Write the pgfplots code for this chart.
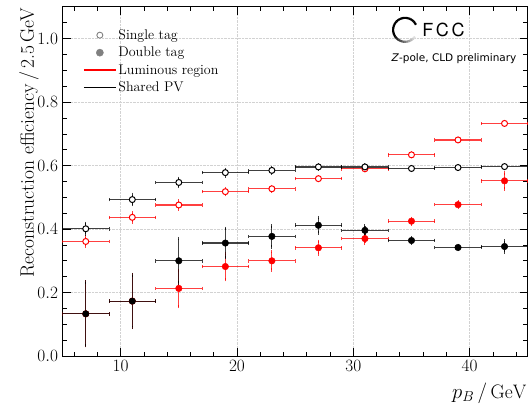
\documentclass[border=0pt]{standalone}
\usepackage{pgfplots}
\pgfplotsset{compat=1.18}
\usepackage{fontspec}
\newfontfamily\logofont{TeX Gyre Heros}
\newfontfamily\djv{DejaVu Sans}
\pgfplotstableread{
x y ex ey
7 0.133 2 0.100
11 0.173 2 0.083
15 0.213 2 0.057
19 0.282 2 0.041
23 0.300 2 0.029
27 0.341 2 0.020
31 0.370 2 0.015
35 0.425 2 0.009
39 0.477 2 0.008
43 0.552 2 0.025
}\doublelum
\pgfplotstableread{
x y ex ey
7 0.361 2 0.015
11 0.437 2 0.014
15 0.476 2 0.012
19 0.518 2 0.009
23 0.527 2 0.007
27 0.559 2 0.006
31 0.590 2 0.005
35 0.634 2 0.005
39 0.681 2 0.004
43 0.733 2 0.004
}\singlelum
\pgfplotstableread{
x y ex ey
7 0.133 2 0.100
11 0.173 2 0.083
15 0.300 2 0.070
19 0.356 2 0.046
23 0.377 2 0.033
27 0.412 2 0.024
31 0.396 2 0.014
35 0.364 2 0.008
39 0.342 2 0.006
43 0.345 2 0.018
}\doublepv
\pgfplotstableread{
x y ex ey
7 0.401 2 0.017
11 0.493 2 0.016
15 0.547 2 0.013
19 0.578 2 0.010
23 0.585 2 0.008
27 0.596 2 0.006
31 0.596 2 0.006
35 0.591 2 0.005
39 0.594 2 0.004
43 0.597 2 0.004
}\singlepv
\pgfplotsset{
  xerr/.style={only marks, mark=none, forget plot,
    error bars/.cd, x dir=both, x explicit, error mark=|,
    error bar style={#1, opacity=0.75, line width=1.2pt},
    error mark options={#1, opacity=0.75, line width=1pt, mark size=1.8pt}},
  yerr/.style={only marks, mark=none, forget plot,
    error bars/.cd, y dir=both, y explicit, error mark=-,
    error bar style={#1, opacity=0.75, line width=1.2pt},
    error mark options={#1, opacity=0.75, line width=1pt, mark size=1.8pt}},
}
\begin{document}
\begin{tikzpicture}
\begin{axis}[
  scale only axis,
  width=465.3pt, height=349pt,
  xmin=5, xmax=45, ymin=0, ymax=1.1,
  xtick={10,20,30,40},
  minor xtick={6,8,12,14,16,18,22,24,26,28,32,34,36,38,42,44},
  ytick={0,0.2,0.4,0.6,0.8,1.0},
  minor ytick={0.05,0.1,0.15,0.25,0.3,0.35,0.45,0.5,0.55,0.65,0.7,0.75,0.85,0.9,0.95,1.05},
  yticklabel style={xshift=-1pt, /pgf/number format/.cd, fixed, fixed zerofill, precision=1},
  tick align=inside,
  axis line style={line width=1pt},
  major tick style={line width=0.9pt, black},
  minor tick style={line width=0.8pt, black},
  major tick length=8pt, minor tick length=4.5pt,
  xtick pos=both, ytick pos=both,
  grid=major,
  major grid style={densely dotted, gray!35, line width=0.5pt},
  tick label style={font=\fontsize{18}{20}\selectfont},
  xticklabel style={yshift=-1pt},
  xlabel={$p_B\,/\,\mathrm{GeV}$},
  ylabel={Reconstruction efficiency\,/\,2.5\,GeV},
  label style={font=\fontsize{19.5}{21}\selectfont},
  xlabel style={at={(rel axis cs:1,0)}, anchor=north east, yshift=-23pt, xshift=2pt},
  ylabel style={at={(axis description cs:-0.0613,1.006)}, anchor=base east},
  legend cell align=left,
  legend style={at={(axis cs:6.77,1.036)}, anchor=north west, draw=none, fill=none,
    font=\fontsize{14}{16}\selectfont, row sep=2.2pt, inner sep=0pt},
]
% legend entries
\addlegendimage{legend image code/.code={\draw[gray, line width=0.9pt, fill=white] (16pt,0pt) circle (3pt);}}
\addlegendentry{Single tag}
\addlegendimage{legend image code/.code={\fill[gray] (16pt,0pt) circle (3.6pt);}}
\addlegendentry{Double tag}
\addlegendimage{legend image code/.code={\draw[red, line width=1.1pt] (0pt,0pt) -- (32pt,0pt);}}
\addlegendentry{Luminous region}
\addlegendimage{legend image code/.code={\draw[black, line width=1.1pt] (0pt,0pt) -- (32pt,0pt);}}
\addlegendentry{Shared PV}

% Double tag, luminous region (red filled)
\addplot[xerr=red] table[x=x, y=y, x error=ex] {\doublelum};
\addplot[yerr=red] table[x=x, y=y, y error=ey] {\doublelum};
\addplot[only marks, forget plot, mark=*, mark size=3.3pt, mark options={fill=red, draw=red}]
  table[x=x, y=y] {\doublelum};
% Single tag, luminous region (red open)
\addplot[xerr=red] table[x=x, y=y, x error=ex] {\singlelum};
\addplot[yerr=red] table[x=x, y=y, y error=ey] {\singlelum};
\addplot[only marks, forget plot, mark=*, mark size=3pt, mark options={fill=white, draw=red, line width=1pt}]
  table[x=x, y=y] {\singlelum};
% Double tag, shared PV (black filled)
\addplot[xerr=black] table[x=x, y=y, x error=ex] {\doublepv};
\addplot[yerr=black] table[x=x, y=y, y error=ey] {\doublepv};
\addplot[only marks, forget plot, mark=*, mark size=3.3pt, mark options={fill=black, draw=black}]
  table[x=x, y=y] {\doublepv};
% Single tag, shared PV (black open)
\addplot[xerr=black] table[x=x, y=y, x error=ex] {\singlepv};
\addplot[yerr=black] table[x=x, y=y, y error=ey] {\singlepv};
\addplot[only marks, forget plot, mark=*, mark size=3pt, mark options={fill=white, draw=black, line width=1pt}]
  table[x=x, y=y] {\singlepv};
\coordinate (logo) at (axis cs:34.45,1.028);
\coordinate (sub) at (axis cs:38.66,0.937);
\coordinate (bl) at (rel axis cs:0,0);
\coordinate (tr) at (rel axis cs:1,1);
\end{axis}
% FCC logo
\foreach \a in {25,35,...,205} {
  \draw[line width=2.2pt, black] (logo) ++(\a:12pt) arc[start angle=\a, end angle=\a+10.5, radius=12pt];
}
\foreach \a/\c in {215/92,225/84,235/76,245/68,255/60,265/52,275/44,285/36,295/28,305/20,315/12} {
  \draw[line width=2.2pt, black!\c] (logo) ++(\a:12pt) arc[start angle=\a, end angle=\a+10.5, radius=12pt];
}
\node[anchor=west, inner sep=0pt, font=\logofont\fontsize{18}{18}\selectfont\addfontfeature{LetterSpace=15}] at ([xshift=17pt]logo) {FCC};
\node[inner sep=0pt, font=\djv\fontsize{10.5}{12}\selectfont] at (sub) {\textit{Z}-pole, CLD preliminary};
\pgfresetboundingbox
\path ([xshift=-62.5pt,yshift=-47pt]bl) rectangle ([xshift=3.2pt,yshift=7pt]tr);
\end{tikzpicture}
\end{document}
